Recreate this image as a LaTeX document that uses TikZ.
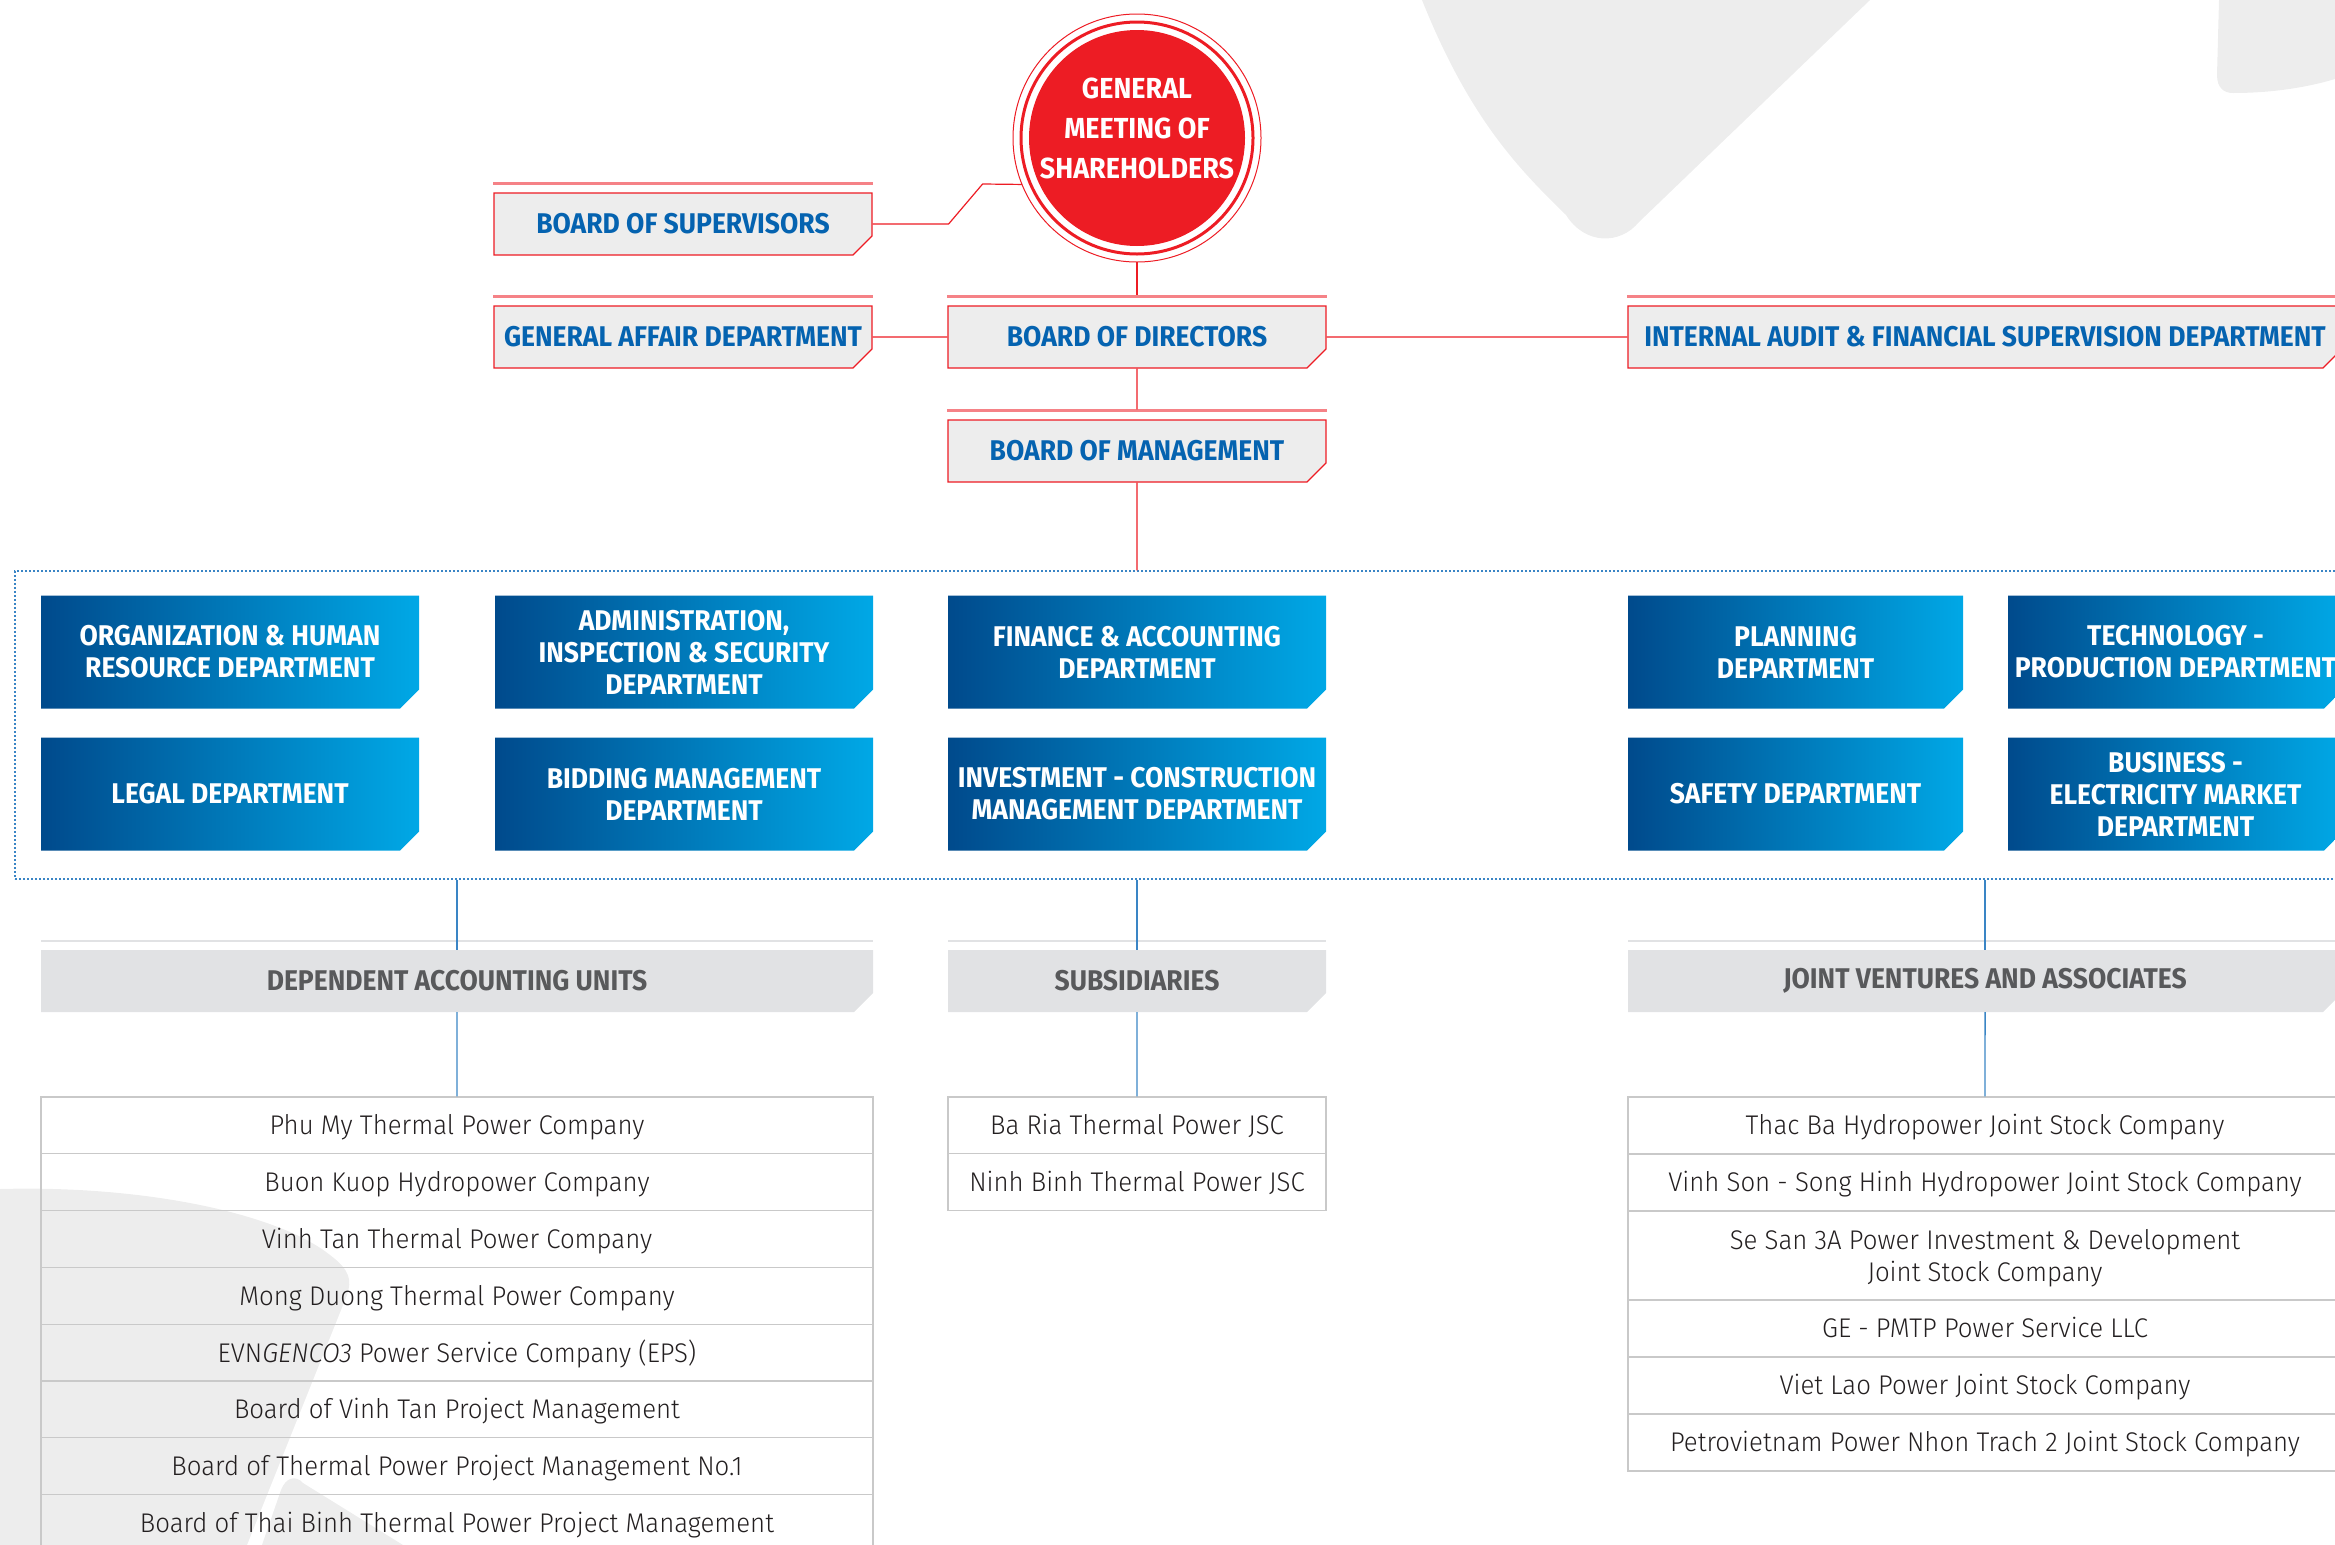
\documentclass[tikz,border=0pt]{standalone}
\usepackage{fontspec}
\usetikzlibrary{shapes.misc,calc}
\newfontfamily\capsfont{Fira Sans}[FakeStretch=0.93]
\newfontfamily\bodyfont{Fira Sans Light}[FakeStretch=0.955]

\definecolor{evnred}{HTML}{ED1C24}
\definecolor{boxgray}{HTML}{EDEDED}
\definecolor{textblue}{HTML}{0563B0}
\definecolor{deepblue}{HTML}{004A8C}
\definecolor{skyblue}{HTML}{00A8E6}
\definecolor{headgray}{HTML}{E1E2E4}
\definecolor{headtext}{HTML}{58595B}
\definecolor{cellline}{HTML}{C9C9C9}
\definecolor{celltext}{HTML}{231F20}
\definecolor{linkblue}{HTML}{3A85C5}
\definecolor{bggray}{HTML}{EDEDED}

\tikzset{
	redline/.style={evnred, line width=1.2pt},
	linkline/.style={linkblue, line width=1.4pt},
	topbar/.style={evnred!55, line width=2.5pt},
	headbar/.style={headgray, line width=2.5pt},
	cutbox/.style={chamfered rectangle, chamfered rectangle corners=south east,
		chamfered rectangle xsep=9.5pt, chamfered rectangle ysep=9.5pt,
		inner sep=0pt, align=center},
	board/.style={cutbox, draw=evnred, line width=1.2pt, fill=boxgray, text=textblue,
		minimum width=378pt, minimum height=62pt,
		font=\capsfont\bfseries\fontsize{28.5}{32}\selectfont},
	dept/.style={cutbox, left color=deepblue, right color=skyblue, text=white,
		minimum width=378pt, minimum height=113pt,
		font=\capsfont\bfseries\fontsize{28.5}{32}\selectfont},
	group/.style={cutbox, fill=headgray, text=headtext, minimum height=62pt,
		font=\capsfont\bfseries\fontsize{28.5}{32}\selectfont},
	cell/.style={draw=cellline, line width=1.2pt, minimum height=56.8pt, inner sep=0pt,
		text height=26pt, text depth=7.2pt,
		align=center, text=celltext, font=\bodyfont\fontsize{27}{32}\selectfont},
}

\begin{document}
\begin{tikzpicture}[x=1pt,y=-1pt]
	\useasboundingbox (0,0) rectangle (2335,1545);
	\clip (0,0) rectangle (2335,1545);

	% background shapes
	\fill[bggray] (1422,0) .. controls (1470,120) and (1520,170) .. (1566,215)
		.. controls (1585,245) and (1620,245) .. (1639,222) -- (1870,0) -- cycle;
	\fill[bggray] (2219,0) -- (2217,75) .. controls (2217,88) and (2224,93) .. (2233,93)
		.. controls (2270,93) and (2305,88) .. (2335,79) -- (2335,0) -- cycle;
	\fill[bggray] (0,1189) .. controls (150,1185) and (280,1215) .. (330,1255)
		.. controls (350,1270) and (352,1280) .. (347,1295) -- (247,1545) -- (0,1545) -- cycle;
	\fill[bggray] (262,1545) -- (281,1490) .. controls (286,1477) and (296,1475) .. (303,1483)
		-- (403,1545) -- cycle;

	% shareholders
	\node[circle, fill=evnred, minimum size=216pt, inner sep=0pt, outer sep=16pt] (gms) at (1137,138) {};
	\draw[evnred, line width=3pt] (gms.center) circle (116pt);
	\draw[evnred, line width=1pt] (gms.center) circle (124pt);
	\node[align=center, text=white, font=\capsfont\bfseries\fontsize{29}{40}\selectfont]
		(gmstext) at (1137,128) {GENERAL\\MEETING OF\\SHAREHOLDERS};

	% boards
	\node[board] (supervisors) at (683,224) {BOARD OF SUPERVISORS};
	\node[board] (affair) at (683,337) {GENERAL AFFAIR DEPARTMENT};
	\node[board] (directors) at (1137,337) {BOARD OF DIRECTORS};
	\node[board] (management) at (1137,451) {BOARD OF MANAGEMENT};
	\node[board, minimum width=714pt] (audit) at (1985,337) {INTERNAL AUDIT \& FINANCIAL SUPERVISION DEPARTMENT};
	\foreach \n in {supervisors,affair,directors,management,audit}
		\draw[topbar] ([yshift=9pt]\n.north west) -- ([yshift=9pt]\n.north east);

	\draw[redline] (supervisors.east) -- ++(76,0) -- ++(34,-40) -- (gms.202);
	\draw[redline, shorten >=10pt] (gms) -- (directors);
	\draw[redline, shorten >=10pt] (directors) -- (management);
	\draw[redline] (affair) -- (directors);
	\draw[redline] (directors) -- (audit);

	% departments
	\node[draw=linkblue, line width=1.2pt, dash pattern=on 2pt off 2pt,
		minimum width=2330pt, minimum height=308pt] (units) at (1180,725) {};
	\draw[redline] (management) -- (management |- units.north);

	\node[dept] (orghr) at (230,652) {ORGANIZATION \& HUMAN\\RESOURCE DEPARTMENT};
	\node[dept] (legal) at (230,794) {LEGAL DEPARTMENT};
	\node[dept] (admin) at (684,652) {ADMINISTRATION,\\INSPECTION \& SECURITY\\DEPARTMENT};
	\node[dept] (bidding) at (684,794) {BIDDING MANAGEMENT\\DEPARTMENT};
	\node[dept] (finance) at (1137,652) {FINANCE \& ACCOUNTING\\DEPARTMENT};
	\node[dept] (invest) at (1137,794) {INVESTMENT - CONSTRUCTION\\MANAGEMENT DEPARTMENT};
	\node[dept, minimum width=335pt] (planning) at (1795.5,652) {PLANNING\\DEPARTMENT};
	\node[dept, minimum width=335pt] (safety) at (1795.5,794) {SAFETY DEPARTMENT};
	\node[dept, minimum width=335pt] (tech) at (2175.5,652) {TECHNOLOGY -\\\makebox[300pt][c]{PRODUCTION DEPARTMENT}};
	\node[dept, minimum width=335pt] (business) at (2175.5,794) {BUSINESS -\\ELECTRICITY MARKET\\DEPARTMENT};

	% groups
	\node[group, minimum width=832pt] (deps) at (457,981) {DEPENDENT ACCOUNTING UNITS};
	\node[group, minimum width=378pt] (subs) at (1137,981) {SUBSIDIARIES};
	\node[group, minimum width=714pt] (jvs) at (1985,981) {JOINT VENTURES AND ASSOCIATES};
	\foreach \n in {deps,subs,jvs}
		\draw[headbar] ([yshift=9pt]\n.north west) -- ([yshift=9pt]\n.north east);

	\foreach \t [count=\i] in {Phu My Thermal Power Company, Buon Kuop Hydropower Company,
		Vinh Tan Thermal Power Company, Mong Duong Thermal Power Company,
		{EVN\textit{GENCO3} Power Service Company (EPS)}, Board of Vinh Tan Project Management,
		Board of Thermal Power Project Management No.1, Board of Thai Binh Thermal Power Project Management}
		\node[cell, minimum width=832pt] (dep\i) at (457,{1097+56.8*(\i-0.5)}) {\t};

	\foreach \t [count=\i] in {Ba Ria Thermal Power JSC, Ninh Binh Thermal Power JSC}
		\node[cell, minimum width=378pt] (sub\i) at (1137,{1097+56.8*(\i-0.5)}) {\t};

	\foreach \t/\yc/\h/\th [count=\i] in {Thac Ba Hydropower Joint Stock Company/1125.5/57/26,
		Vinh Son - Song Hinh Hydropower Joint Stock Company/1182.5/57/26,
		{Se San 3A Power Investment \& Development\\Joint Stock Company}/1255.5/89/58.5,
		GE - PMTP Power Service LLC/1328.5/57/26,
		Viet Lao Power Joint Stock Company/1385.5/57/26,
		Petrovietnam Power Nhon Trach 2 Joint Stock Company/1442.5/57/26}
		\node[cell, minimum width=714pt, minimum height=\h pt, text height=\th pt] (jv\i) at (1985,\yc) {\t};

	\draw[linkline] (units.south -| deps.north) -- (deps.north);
	\draw[linkline] (units.south -| subs.north) -- (subs.north);
	\draw[linkline] (units.south -| jvs.north) -- (jvs.north);
	\draw[linkline] (deps) -- (dep1);
	\draw[linkline] (subs) -- (sub1);
	\draw[linkline] (jvs) -- (jv1);
\end{tikzpicture}
\end{document}
